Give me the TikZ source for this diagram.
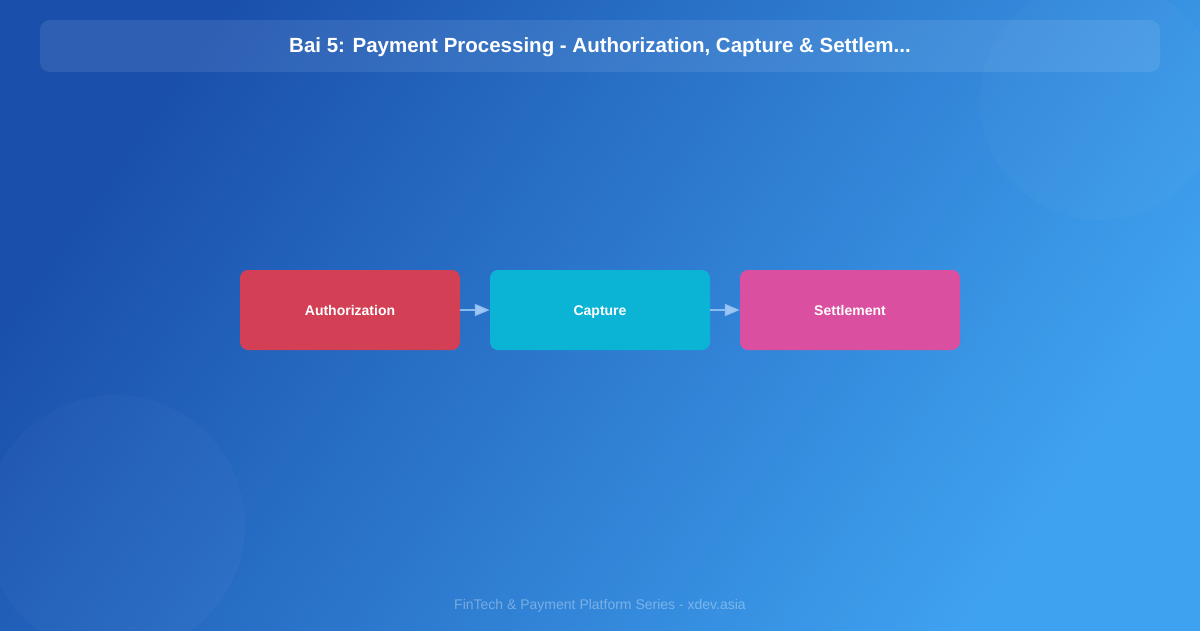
\documentclass[tikz,border=0pt]{standalone}
\usepackage{fontspec}
\setmainfont{Liberation Sans}
\usepackage{tikz}
\usetikzlibrary{arrows.meta, calc}

\definecolor{bgdark}{HTML}{1A50AC}
\definecolor{bglight}{HTML}{3FA2F0}
\definecolor{authred}{HTML}{D33F55}
\definecolor{capcyan}{HTML}{0BB3D5}
\definecolor{setpink}{HTML}{DB4FA0}
\definecolor{arrowblue}{HTML}{9CC6F4}

\begin{document}
\begin{tikzpicture}[x=1pt, y=-1pt,
    stagebox/.style={rectangle, rounded corners=8pt, minimum width=220pt,
      minimum height=80pt, inner sep=0pt, text=white,
      text height=12pt, text depth=2pt,
      font=\fontsize{14}{16}\selectfont\bfseries},
    flowarrow/.style={draw=arrowblue, line width=2pt, draw opacity=0.85,
      -{Triangle[length=15pt, width=12pt]}}]

      % background
      \shade[shading=axis, top color=bglight, bottom color=bgdark,
        middle color=bgdark!50!bglight, shading angle=235]
        (0,0) rectangle (1200,630);
      \useasboundingbox (0,0) rectangle (1200,630);

      % faint circles
      \fill[white, opacity=0.025] (1100,100) circle (120);
      \fill[white, opacity=0.025] (115,525) circle (130);

      % title bar
      \fill[white, opacity=0.09, rounded corners=10pt] (40,20) rectangle (1160,72);
      \node[text=white, font=\fontsize{20.5}{22}\selectfont\bfseries] (title) at (600,47.5)
        {Bai 5: Payment Processing - Authorization, Capture \& Settlem...};

      % stages
      \node[stagebox, fill=authred] (auth) at (350,310) {Authorization};
      \node[stagebox, fill=capcyan] (capt) at (600,310) {Capture};
      \node[stagebox, fill=setpink] (sett) at (850,310) {Settlement};

      \draw[flowarrow] (auth) -- (capt);
      \draw[flowarrow] (capt) -- (sett);

      % footer
      \node[text=white, opacity=0.35, font=\fontsize{14}{16}\selectfont] (footer) at (600,606)
        {FinTech \& Payment Platform Series - xdev.asia};
    \end{tikzpicture}
\end{document}
